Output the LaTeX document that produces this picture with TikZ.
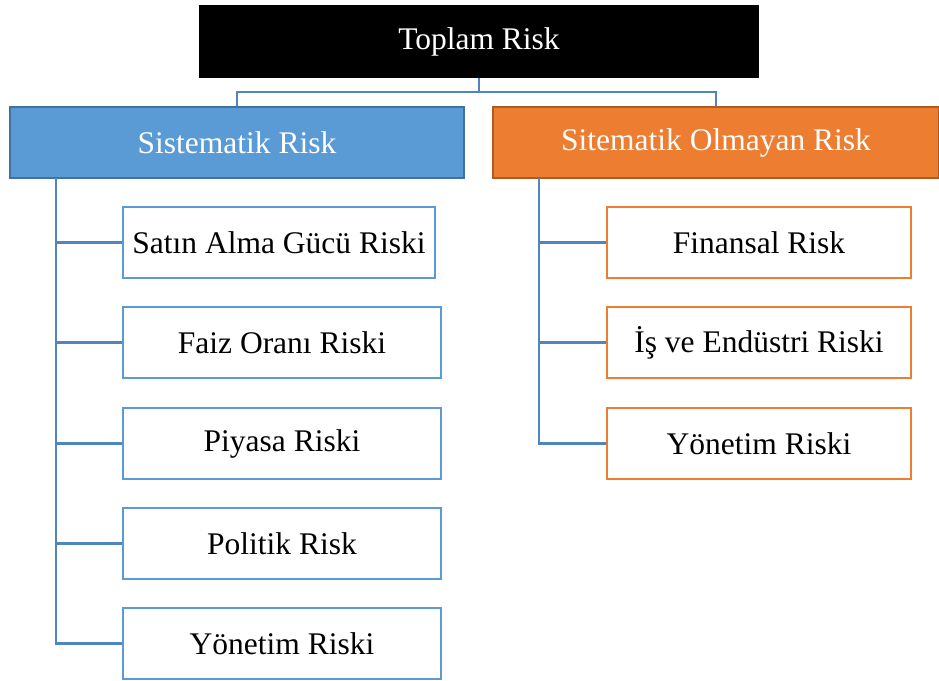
\documentclass[tikz,border=0pt]{standalone}
\usepackage{fontspec}
\setmainfont{Liberation Serif}
\definecolor{sisblue}{HTML}{5B9BD5}
\definecolor{sisedge}{HTML}{41719C}
\definecolor{sitorange}{HTML}{ED7D31}
\definecolor{sitedge}{HTML}{AE5A21}
\definecolor{connblue}{HTML}{4F86C0}
\begin{document}
\begin{tikzpicture}[x=1pt,y=-1pt,
 top/.style={fill=black,text=white,minimum width=560pt,minimum height=73pt,inner sep=0pt,font=\fontsize{31.5}{36}\selectfont},
 head/.style={line width=2.5pt,text=white,minimum width=#1,minimum height=71pt,inner sep=0pt,font=\fontsize{31.5}{36}\selectfont},
 leaf/.style={draw=#1,fill=white,line width=2.2pt,minimum height=71pt,inner sep=0pt,font=\fontsize{31.5}{36}\selectfont},
 conn/.style={draw=connblue,line width=2.2pt}]
 \useasboundingbox (0,0) rectangle (939,680);
 \node[top] (toplam) at (479,41.5) {Toplam Risk};
 \node[head=454pt,draw=sisedge,fill=sisblue] (sis) at (237,142.5) {Sistematik Risk};
 \node[head=446pt,draw=sitedge,fill=sitorange] (sit) at (716,142.5) {Sitematik Olmayan Risk};
 \node[leaf=sisblue,minimum width=312pt] (satin) at (279,242.5) {Satın Alma Gücü Riski};
 \node[leaf=sisblue,minimum width=318pt] (faiz) at (282,342.5) {Faiz Oranı Riski};
 \node[leaf=sisblue,minimum width=318pt] (piyasa) at (282,443.5) {Piyasa Riski};
 \node[leaf=sisblue,minimum width=318pt] (politik) at (282,543.5) {Politik Risk};
 \node[leaf=sisblue,minimum width=318pt] (yonetimA) at (282,643.5) {Yönetim Riski};
 \node[leaf=sitorange,minimum width=304pt] (finansal) at (759,242.5) {Finansal Risk};
 \node[leaf=sitorange,minimum width=304pt] (is) at (759,342.5) {İş ve Endüstri Riski};
 \node[leaf=sitorange,minimum width=304pt] (yonetimB) at (759,443.5) {Yönetim Riski};
 \coordinate (mid) at (479,92);
 \coordinate (lspine) at (56,178);
 \coordinate (rspine) at (539,178);
 \draw[conn] (toplam.south) -- (mid);
 \draw[conn] (mid) -| (sis.north);
 \draw[conn] (mid) -| (sit.north);
 \draw[conn] (lspine) |- (yonetimA.west);
 \foreach \n in {satin,faiz,piyasa,politik}
  \draw[conn] (\n.west) -- (\n.west -| lspine);
 \draw[conn] (rspine) |- (yonetimB.west);
 \foreach \n in {finansal,is}
  \draw[conn] (\n.west) -- (\n.west -| rspine);
\end{tikzpicture}
\end{document}
